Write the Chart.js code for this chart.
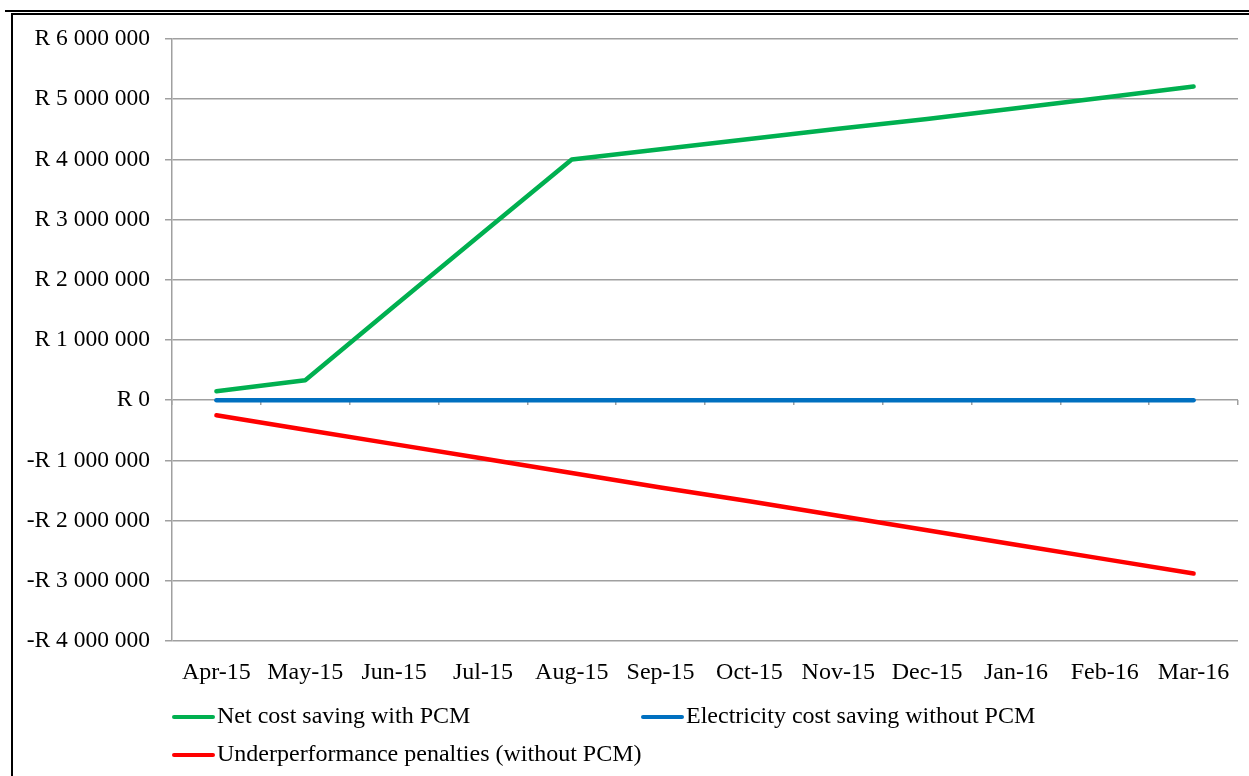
<!DOCTYPE html>
<html>
<head>
<meta charset="utf-8">
<script src="https://cdn.jsdelivr.net/npm/chart.js@4.4.1/dist/chart.umd.min.js"></script>
<style>
  html, body { margin: 0; padding: 0; background: #fff; }
  body { width: 1249px; height: 776px; position: relative; overflow: hidden; }
  #wrap { position: absolute; left: 0; top: 0; width: 1249px; height: 776px; }
  .rule { position: absolute; background: #000; }
</style>
</head>
<body>
<div class="rule" style="left:5px;top:10px;width:1244px;height:2px;"></div>
<div class="rule" style="left:11px;top:13px;width:1238px;height:2px;"></div>
<div class="rule" style="left:11px;top:13px;width:2px;height:763px;"></div>
<div id="wrap"><canvas id="c" width="1249" height="776"></canvas></div>
<script>
// Months of the 2015/16 financial year
const months = ['Apr-15', 'May-15', 'Jun-15', 'Jul-15', 'Aug-15', 'Sep-15',
                'Oct-15', 'Nov-15', 'Dec-15', 'Jan-16', 'Feb-16', 'Mar-16'];

// Cumulative amounts in rand
const netSavingWithPCM = [150000, 330000, 1560000, 2780000, 4000000, 4170000,
                          4340000, 4510000, 4670000, 4850000, 5030000, 5210000];
const electricitySavingWithoutPCM = [0, 0, 0, 0, 0, 0, 0, 0, 0, 0, 0, 0];
const underperformancePenalties = [-250000, -490000, -730000, -970000, -1210000, -1450000,
                                   -1680000, -1920000, -2160000, -2400000, -2640000, -2880000];

const seriesNames = ['Net cost saving with PCM',
                     'Electricity cost saving without PCM',
                     'Underperformance penalties (without PCM)'];

const yMin = -4000000, yMax = 6000000, yStep = 1000000;

const FONT = '"Liberation Serif", "Times New Roman", serif';
const FONT_SIZE = 24;
const GRID = '#a0a0a0';

function rand(v) {
  const neg = v < 0;
  const s = Math.abs(Math.round(v)).toString().replace(/\B(?=(\d{3})+(?!\d))/g, ' ');
  return (neg ? '-R ' : 'R ') + s;
}

// Legend laid out as a two-column grid beneath the axis labels
const gridLegend = {
  id: 'gridLegend',
  afterDraw(chart) {
    const ctx = chart.ctx;
    const cells = [
      { x: 172, y: 717 },
      { x: 641, y: 717 },
      { x: 172, y: 755 }
    ];
    ctx.save();
    ctx.font = FONT_SIZE + 'px ' + FONT;
    ctx.textBaseline = 'middle';
    ctx.fillStyle = '#000';
    chart.data.datasets.forEach((ds, i) => {
      const c = cells[i];
      ctx.strokeStyle = ds.borderColor;
      ctx.lineWidth = 4;
      ctx.lineCap = 'round';
      ctx.beginPath();
      ctx.moveTo(c.x + 2, c.y);
      ctx.lineTo(c.x + 41, c.y);
      ctx.stroke();
      ctx.fillText(ds.label, c.x + 45, c.y);
    });
    ctx.restore();
  }
};

new Chart(document.getElementById('c'), {
  type: 'line',
  data: {
    labels: months,
    datasets: [
      { label: seriesNames[0], data: netSavingWithPCM, borderColor: '#00b050' },
      { label: seriesNames[1], data: electricitySavingWithoutPCM, borderColor: '#0070c0' },
      { label: seriesNames[2], data: underperformancePenalties, borderColor: '#ff0000' }
    ].map(d => Object.assign(d, {
      borderWidth: 4.5,
      pointRadius: 0,
      pointHoverRadius: 0,
      tension: 0,
      fill: false,
      borderCapStyle: 'round',
      borderJoinStyle: 'round'
    }))
  },
  options: {
    responsive: false,
    animation: false,
    devicePixelRatio: 1,
    layout: { padding: { left: 0, top: 39, right: 11, bottom: 0 } },
    plugins: { legend: { display: false }, tooltip: { enabled: false } },
    scales: {
      x: {
        position: 'bottom',
        offset: true,
        grid: { display: false },
        border: { display: false },
        ticks: { color: '#000', font: { family: FONT, size: FONT_SIZE }, padding: 9, maxRotation: 0, autoSkip: false },
        afterFit(s) { s.height = 135; }
      },
      x0: {
        position: { y: 0 },
        labels: months,
        offset: true,
        grid: { display: true, drawOnChartArea: false, drawTicks: true, tickLength: 5, color: GRID, lineWidth: 1.5, offset: true },
        border: { display: false },
        ticks: { display: false }
      },
      y: {
        min: yMin,
        max: yMax,
        ticks: {
          stepSize: yStep,
          color: '#000',
          font: { family: FONT, size: 23.5 },
          padding: 15,
          callback: v => rand(v)
        },
        grid: { color: GRID, lineWidth: 1.5, tickLength: 7 },
        border: { display: true, color: GRID, width: 1.5 },
        afterFit(s) { s.width = 172; }
      }
    }
  },
  plugins: [gridLegend]
});
</script>
</body>
</html>
